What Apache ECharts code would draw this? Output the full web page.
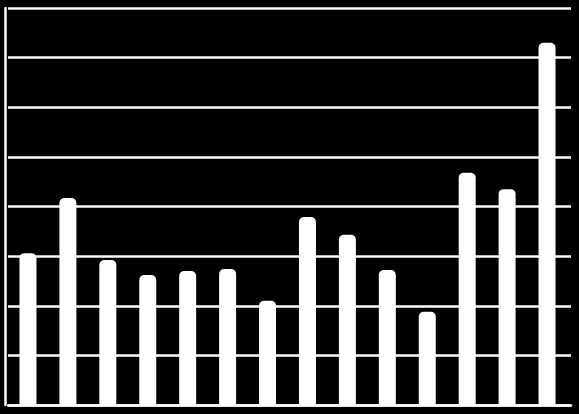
<!DOCTYPE html>
<html lang="en">
<head>
  <meta charset="UTF-8">
  <title>Bar Chart</title>
  <style>
    html, body {margin: 0; padding: 0; background: #000;}
    #chart {width: 579px; height: 414px;}
  </style>
</head>
<body>
  <div id="chart"></div>
  <script src="https://cdn.jsdelivr.net/npm/echarts@6/dist/echarts.min.js"></script>
  <script>
    // data (no labels shown in the original)
    var categories = ['1', '2', '3', '4', '5', '6', '7', '8', '9', '10', '11', '12', '13', '14'];
    var values = [3.06, 4.17, 2.92, 2.62, 2.70, 2.74, 2.10, 3.79, 3.43, 2.72, 1.88, 4.68, 4.35, 7.30];
    var yMin = 0, yMax = 8, yStep = 1;

    var chart = echarts.init(document.getElementById('chart'));

    var lineColor = '#fafafa';

    var option = {
      backgroundColor: '#000',
      animation: false,
      // grid 0 = back wall with gridlines (a bit wider, 3d depth), grid 1 = the bars
      grid: [
        {left: 8, right: 8, top: 8, bottom: 9},
        {left: 8, right: 12, top: 8, bottom: 9}
      ],
      xAxis: [{
        gridIndex: 0,
        type: 'category',
        data: categories,
        offset: 3,
        axisLine: {lineStyle: {color: lineColor, width: 2.5}},
        axisTick: {show: false},
        axisLabel: {show: false},
        splitLine: {show: false}
      }, {
        gridIndex: 1,
        type: 'category',
        data: categories,
        axisLine: {show: false},
        axisTick: {show: false},
        axisLabel: {show: false},
        splitLine: {show: false}
      }],
      yAxis: [{
        gridIndex: 0,
        type: 'value',
        min: yMin,
        max: yMax,
        interval: yStep,
        offset: 3,
        axisLine: {show: true, lineStyle: {color: lineColor, width: 2.5}},
        axisTick: {show: false},
        axisLabel: {show: false},
        splitLine: {lineStyle: {color: lineColor, width: 2.5}}
      }, {
        gridIndex: 1,
        type: 'value',
        min: yMin,
        max: yMax,
        interval: yStep,
        axisLine: {show: false},
        axisTick: {show: false},
        axisLabel: {show: false},
        splitLine: {show: false}
      }],
      series: [{
        type: 'bar',
        xAxisIndex: 1,
        yAxisIndex: 1,
        data: values,
        barWidth: 17,
        itemStyle: {
          color: '#ffffff',
          borderRadius: [5, 5, 0, 0]
        }
      }]
    };

    chart.setOption(option);
  </script>
</body>
</html>
